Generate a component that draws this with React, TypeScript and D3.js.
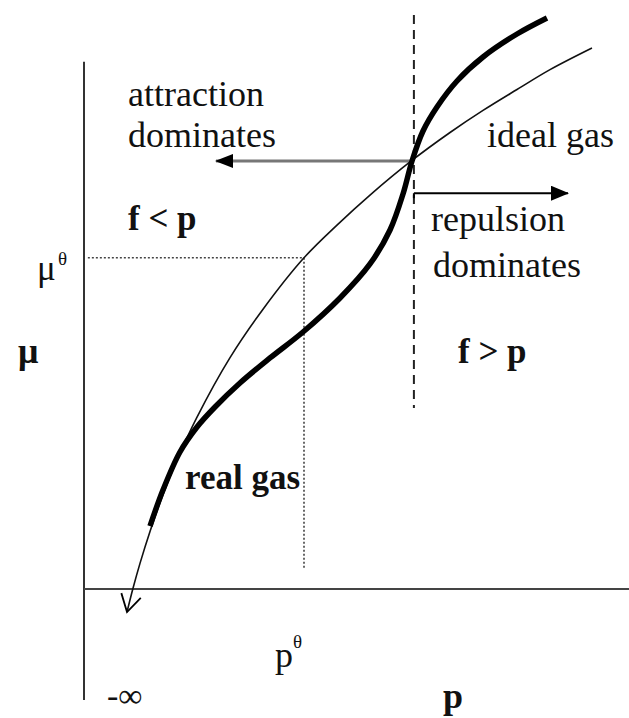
import React from "react";
import * as d3 from "d3";

// Chemical potential of a gas against pressure (schematic)
const idealP = [0.782, 0.891, 1.018, 1.2, 1.436, 1.691, 2.055, 2.655, 3.255, 4.0, 4.6, 5.2, 5.95, 6.655, 7.255, 7.873, 8.473, 9.236];
const idealMu = [-0.417, 0.013, 0.464, 1.043, 1.708, 2.337, 3.114, 4.192, 5.069, 6.0, 6.592, 7.136, 7.754, 8.27, 8.67, 9.049, 9.409, 9.801];

const realP = [1.2, 1.436, 1.745, 2.055, 2.382, 2.836, 3.382, 3.982, 4.655, 5.2, 5.564, 5.8, 5.964, 6.164, 6.418, 6.782, 7.255, 7.873, 8.418];
const realMu = [1.141, 1.793, 2.482, 2.935, 3.297, 3.732, 4.185, 4.656, 5.272, 5.888, 6.504, 7.156, 7.754, 8.297, 8.732, 9.203, 9.638, 10.054, 10.344];

// Standard state and the crossing pressure where f = p
const pStd = 4.0;
const muStd = 6.0;
const pCross = 5.98;
const muCross = 7.754;

// Axis extents
const pAxis = [0, 10];
const muAxis = [-2.01, 9.55];

const W = 629;
const H = 718;

export default function App() {
  const x = d3.scaleLinear().domain([0, 10]).range([84, 634]);
  const y = d3.scaleLinear().domain([0, 10]).range([589, 37]);

  const line = d3
    .line<[number, number]>()
    .x((d) => x(d[0]))
    .y((d) => y(d[1]))
    .curve(d3.curveCatmullRom.alpha(0.5));

  const ideal: [number, number][] = idealP.map((p, i) => [p, idealMu[i]]);
  const real: [number, number][] = realP.map((p, i) => [p, realMu[i]]);

  const serif = '"Liberation Serif", "Times New Roman", Times, serif';
  const ink = "#111";

  return (
    <svg
      width={W}
      height={H}
      style={{ position: "absolute", left: 0, top: 0, background: "#fff", fontFamily: serif }}
    >
      <defs>
        <marker id="headL" viewBox="0 0 18 14" refX="17" refY="7" markerWidth="18" markerHeight="14" markerUnits="userSpaceOnUse" orient="auto">
          <path d="M0,0 L18,7 L0,14 Z" fill="#000" />
        </marker>
        <marker id="headR" viewBox="0 0 18 15" refX="17" refY="7.5" markerWidth="18" markerHeight="15" markerUnits="userSpaceOnUse" orient="auto">
          <path d="M0,0 L18,7.5 L0,15 Z" fill="#000" />
        </marker>
        <marker id="openHead" viewBox="-1 -1 22 26" refX="19" refY="12" markerWidth="22" markerHeight="26" markerUnits="userSpaceOnUse" orient="auto-start-reverse">
          <path d="M2,2 L19,12 L2,22" fill="none" stroke="#000" strokeWidth="1.8" />
        </marker>
      </defs>

      {/* axes */}
      <line x1={x(0)} x2={x(0)} y1={y(muAxis[1])} y2={y(muAxis[0])} stroke="#333" strokeWidth={2} />
      <line x1={x(pAxis[0])} x2={x(pAxis[1])} y1={y(0)} y2={y(0)} stroke="#444" strokeWidth={2} />

      {/* standard state guides */}
      <line x1={x(0.07)} x2={x(pStd)} y1={y(muStd)} y2={y(muStd)} stroke="#444" strokeWidth={1.6} strokeDasharray="2 2" />
      <line x1={x(pStd)} x2={x(pStd)} y1={y(muStd)} y2={y(0.36)} stroke="#444" strokeWidth={1.6} strokeDasharray="2 2" />

      {/* f = p boundary */}
      <line x1={x(pCross) + 1} x2={x(pCross) + 1} y1={y(10.4)} y2={y(3.28)} stroke="#222" strokeWidth={2} strokeDasharray="9 6" />

      {/* region arrows */}
      <line x1={x(pCross)} x2={x(2.4)} y1={y(muCross)} y2={y(muCross)} stroke="#777" strokeWidth={3} markerEnd="url(#headL)" />
      <line x1={x(pCross) + 1} x2={x(8.8)} y1={y(7.17)} y2={y(7.17)} stroke="#000" strokeWidth={2} markerEnd="url(#headR)" />
      <line x1={x(pCross) + 1} x2={x(pCross) + 1} y1={y(7.17)} y2={y(7.08)} stroke="#000" strokeWidth={2} />

      {/* ideal gas */}
      <path d={line(ideal) || ""} fill="none" stroke="#111" strokeWidth={1.6} markerStart="url(#openHead)" />
      {/* real gas */}
      <path d={line(real) || ""} fill="none" stroke="#000" strokeWidth={5.5} />

      {/* annotations */}
      <g fill={ink} fontSize={36}>
        <text x={128} y={106}>attraction</text>
        <text x={128} y={147}>dominates</text>
        <text x={487} y={147}>ideal gas</text>
        <text x={431} y={231}>repulsion</text>
        <text x={433} y={277}>dominates</text>
      </g>
      <g fill={ink} fontSize={35} fontWeight="bold">
        <text x={128} y={230}>f &lt; p</text>
        <text x={458} y={363}>f &gt; p</text>
        <text x={185} y={489}>real gas</text>
      </g>

      {/* axis labels */}
      <text x={18} y={363} fontSize={36} fontWeight="bold" fill={ink}>μ</text>
      <text x={37} y={280} fontSize={35} fill={ink}>μ</text>
      <text x={58} y={265} fontSize={19} fill={ink}>θ</text>
      <text x={275} y={667} fontSize={36} fill={ink}>p</text>
      <text x={293} y={648} fontSize={19} fill={ink}>θ</text>
      <text x={107} y={707} fontSize={34} fill={ink}>-∞</text>
      <text x={443} y={708} fontSize={36} fontWeight="bold" fill={ink}>p</text>
    </svg>
  );
}
